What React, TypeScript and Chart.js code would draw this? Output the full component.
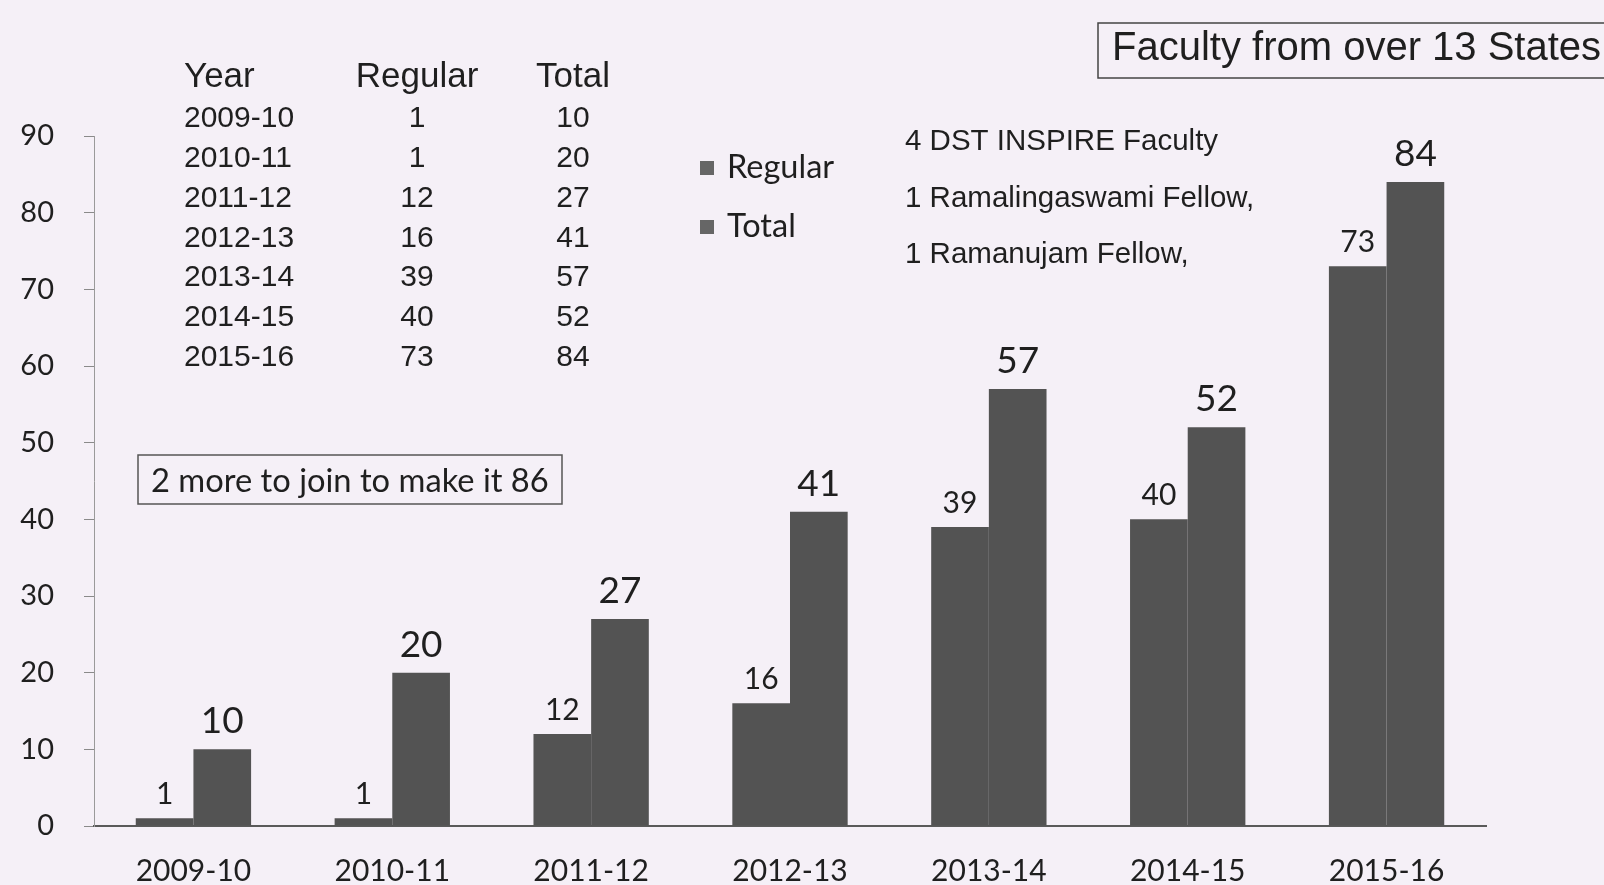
import { useEffect, useRef } from "react";
import { Chart, registerables } from "chart.js";

Chart.register(...registerables);

const categories = ["2009-10", "2010-11", "2011-12", "2012-13", "2013-14", "2014-15", "2015-16"];
const regularValues = [1, 1, 12, 16, 39, 40, 73];
const totalValues = [10, 20, 27, 41, 57, 52, 84];
const seriesNames = ["Regular", "Total"];
const yMax = 90;
const yStep = 10;
const tableHeaders = ["Year", "Regular", "Total"];
const notes = ["4 DST INSPIRE Faculty", "1 Ramalingaswami Fellow,", "1 Ramanujam Fellow,"];
const topBoxText = "Faculty from over 13 States";
const midBoxText = "2 more to join to make it 86";

const BG = "#f5f0f7";
const BAR = "#535353";
const INK = "#1f1f1f";
const SANS = "'Liberation Sans', Arial, sans-serif";
const LATO = "Lato, 'Open Sans', sans-serif";

const overlayPlugin = {
  id: "overlay",
  beforeDraw(chart: any) {
    const ctx = chart.ctx;
    ctx.save();
    ctx.fillStyle = BG;
    ctx.fillRect(0, 0, chart.width, chart.height);
    ctx.restore();
  },
  afterDatasetsDraw(chart: any) {
    const ctx = chart.ctx;
    ctx.save();
    ctx.fillStyle = INK;
    // data labels
    chart.data.datasets.forEach((ds: any, di: number) => {
      const meta = chart.getDatasetMeta(di);
      meta.data.forEach((el: any, i: number) => {
        const v = ds.data[i];
        ctx.font = di === 0 ? `30px ${LATO}` : `37px ${LATO}`;
        ctx.textAlign = "center";
        ctx.textBaseline = "alphabetic";
        ctx.fillText(String(v), el.x, el.y - (di === 0 ? 14 : 16));
      });
    });

    // table
    ctx.textBaseline = "middle";
    ctx.font = `35px ${SANS}`;
    ctx.textAlign = "left";
    ctx.fillText(tableHeaders[0], 184, 77);
    ctx.textAlign = "center";
    ctx.fillText(tableHeaders[1], 417, 77);
    ctx.fillText(tableHeaders[2], 573, 77);
    ctx.font = `30px ${SANS}`;
    categories.forEach((c, i) => {
      const y = 119 + i * 39.8;
      ctx.textAlign = "left";
      ctx.fillText(c, 184, y);
      ctx.textAlign = "center";
      ctx.fillText(String(regularValues[i]), 417, y);
      ctx.fillText(String(totalValues[i]), 573, y);
    });

    // legend
    ctx.font = `32.5px ${LATO}`;
    ctx.textAlign = "left";
    seriesNames.forEach((n, i) => {
      const y = 168 + i * 59;
      ctx.fillStyle = "#666";
      ctx.fillRect(700, y - 7, 14, 14);
      ctx.fillStyle = INK;
      ctx.fillText(n, 727, y);
    });

    // notes
    ctx.font = `29.5px ${SANS}`;
    notes.forEach((n, i) => {
      ctx.fillText(n, 905, 142 + i * 56.5);
    });

    // top box
    ctx.strokeStyle = "#444";
    ctx.lineWidth = 1.5;
    ctx.strokeRect(1098, 23, 540, 55);
    ctx.font = `40px ${SANS}`;
    ctx.fillText(topBoxText, 1112, 49);

    // mid box
    ctx.strokeStyle = "#555";
    ctx.lineWidth = 1.5;
    ctx.strokeRect(138, 455, 424, 49);
    ctx.font = `32.7px ${LATO}`;
    ctx.fillText(midBoxText, 151, 481);
    ctx.restore();
  },
};

export default function App() {
  const ref = useRef<HTMLCanvasElement | null>(null);
  useEffect(() => {
    document.body.style.margin = "0";
    document.body.style.background = BG;
    const canvas = ref.current;
    if (!canvas) return;
    const chart = new Chart(canvas, {
      type: "bar",
      data: {
        labels: categories,
        datasets: [
          { label: seriesNames[0], data: regularValues, backgroundColor: BAR, borderWidth: 0 },
          { label: seriesNames[1], data: totalValues, backgroundColor: BAR, borderWidth: 0 },
        ],
      },
      options: {
        animation: false,
        responsive: false,
        maintainAspectRatio: false,
        layout: { padding: { left: 0, right: 118, top: 136, bottom: 0 } },
        plugins: { legend: { display: false }, tooltip: { enabled: false } },
        datasets: { bar: { categoryPercentage: 0.58, barPercentage: 1.0 } },
        scales: {
          x: {
            grid: { display: false, drawTicks: false },
            border: { display: true, color: "#5a5a5a", width: 2 },
            ticks: { color: INK, font: { family: LATO, size: 30 }, padding: 27, maxRotation: 0, autoSkip: false },
            afterFit(scale: any) {
              scale.height = 59;
            },
          },
          y: {
            min: 0,
            max: yMax,
            ticks: { stepSize: yStep, color: INK, font: { family: LATO, size: 29 }, padding: 30 },
            grid: { drawOnChartArea: false, drawTicks: true, tickLength: 10, color: "#8a8a8a" },
            border: { display: true, color: "#9a9a9a", width: 1 },
            afterFit(scale: any) {
              scale.width = 94;
            },
          },
        },
      },
      plugins: [overlayPlugin],
    });
    return () => chart.destroy();
  }, []);
  return (
    <div style={{ position: "absolute", left: 0, top: 0, width: 1604, height: 885, background: BG }}>
      <canvas ref={ref} width={1604} height={885} style={{ width: 1604, height: 885, display: "block" }} />
    </div>
  );
}
